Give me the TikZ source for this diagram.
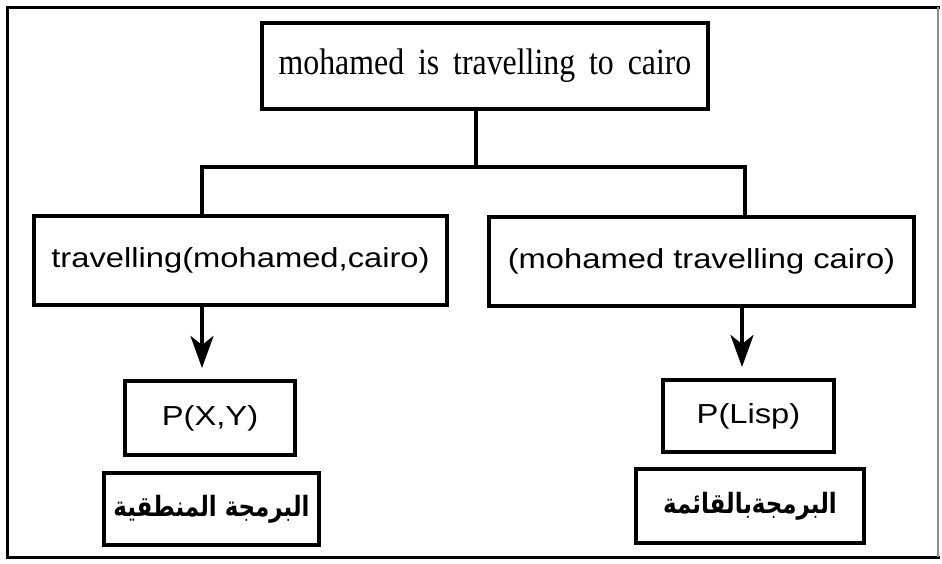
\documentclass[tikz,border=0pt]{standalone}
\usepackage{fontspec}
\setmainfont{Liberation Serif}
\newfontfamily\tserif[FakeStretch=0.86,WordSpace=1.75]{Liberation Serif}
\newfontfamily\hsans[FakeStretch=1.19]{Liberation Sans}
\newfontfamily\arabicfont[Script=Arabic,FakeStretch=0.82]{DejaVu Sans}
\TeXXeTstate=1
\usetikzlibrary{arrows.meta}
\tikzset{
  box/.style={draw=black, line width=4pt, inner sep=0pt, rectangle},
  sanstext/.style={font=\hsans\fontsize{27.5}{32}\selectfont},
  serftext/.style={font=\tserif\fontsize{37}{42}\selectfont},
  artext/.style={font=\arabicfont\bfseries\fontsize{28}{32}\selectfont},
  conn/.style={line width=4pt},
  arr/.style={line width=4pt, -{Stealth[length=32pt,width=23pt,inset=9pt]}, shorten >=11pt},
}
\begin{document}
\begin{tikzpicture}[x=1pt,y=-1pt]
\useasboundingbox (0,0) rectangle (942,563);
% outer frame
\draw[line width=3pt, line cap=rect] (938,7) -- (7,7) -- (7,557) -- (938,557);
\draw[line width=1.2pt, black!45] (938,7) -- (938,557);
% boxes
\node[box, serftext, minimum width=446pt, minimum height=86pt] (top) at (485,66) {mohamed is travelling to cairo};
\node[box, sanstext, minimum width=413pt, minimum height=89pt] (left) at (240.5,260.5) {travelling(mohamed,cairo)};
\node[box, sanstext, minimum width=425pt, minimum height=89pt] (right) at (701.5,261.5) {(mohamed travelling cairo)};
\node[box, sanstext, minimum width=170pt, minimum height=74pt] (pxy) at (210,418) {P(X,Y)};
\node[box, sanstext, minimum width=171pt, minimum height=72pt] (plisp) at (748.5,416) {P(Lisp)};
\node[box, artext, minimum width=215pt, minimum height=72pt] (arl) at (211.5,509) {\beginR البرمجة المنطقية\endR};
\node[box, artext, minimum width=228pt, minimum height=74pt] (arr) at (750,506) {\beginR البرمجةبالقائمة\endR};
% connectors
\coordinate (j) at (476,167);
\coordinate (jl) at (202,167);
\coordinate (jr) at (745,167);
\coordinate (al) at (202,0);
\coordinate (ar) at (742,0);
\draw[conn] (top.south -| j) -- (j);
\draw[conn, line cap=rect] (jl) -- (jr);
\draw[conn] (jl) -- (jl |- left.north);
\draw[conn] (jr) -- (jr |- right.north);
\draw[arr] (left.south -| al) -- (pxy.north -| al);
\draw[arr] (right.south -| ar) -- (plisp.north -| ar);
\end{tikzpicture}
\end{document}
